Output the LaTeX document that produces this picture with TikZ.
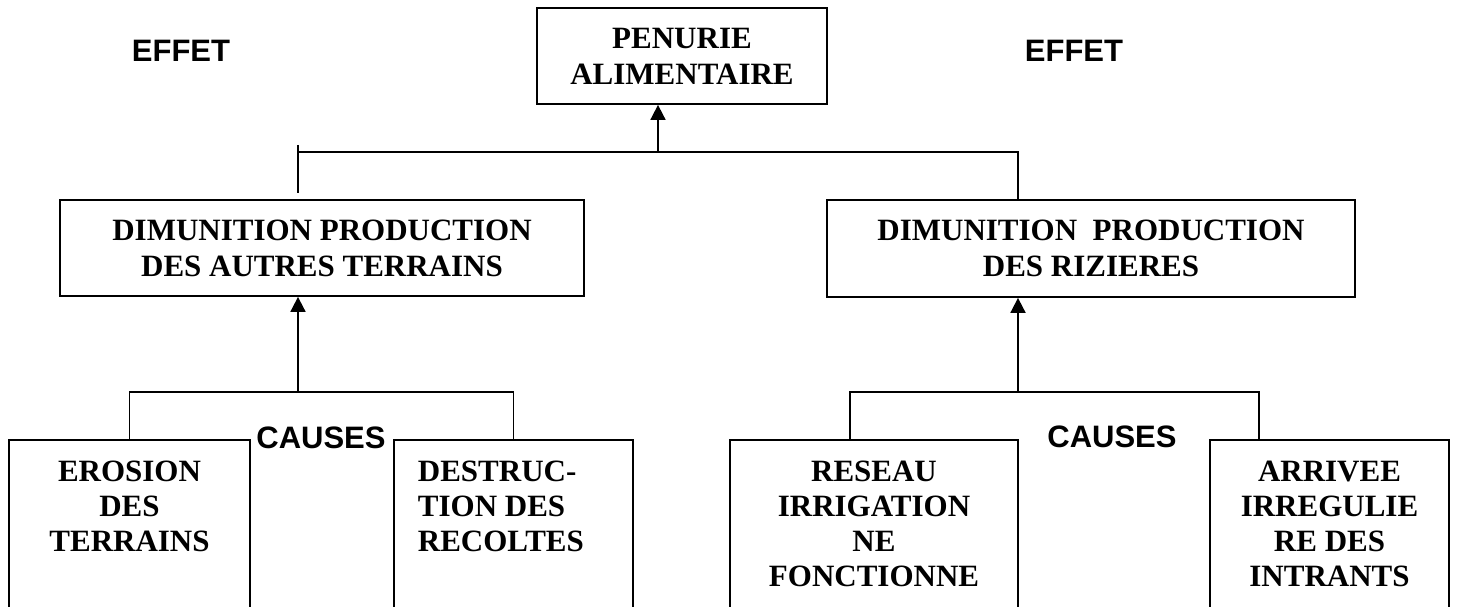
\documentclass[tikz,border=0pt]{standalone}
\usepackage{fontspec}
\setmainfont{Liberation Serif}
\newfontfamily\labelfont{Liberation Sans}
\usetikzlibrary{arrows.meta}
\begin{document}
\begin{tikzpicture}[x=1pt, y=-1pt, line width=1.8pt,
  box/.style={draw, rectangle, inner sep=0pt, align=center,
    font=\bfseries\fontsize{31}{36}\selectfont},
  causebox/.style={draw, rectangle, inner sep=0pt, minimum height=200},
  causetext/.style={inner sep=0pt, anchor=north, align=center,
    font=\bfseries\fontsize{31}{35}\selectfont},
  tag/.style={inner sep=0pt, font=\labelfont\bfseries\fontsize{31}{36}\selectfont},
  arr/.style={-{Triangle[length=15pt, width=15pt]}}]
\useasboundingbox (0,0) rectangle (1459,607);
\clip (0,0) rectangle (1459,607);

% effect
\node[box, minimum width=290, minimum height=96] (penurie) at (682,56) {PENURIE\\ALIMENTAIRE};
\node[tag] (effetL) at (181,50.5) {EFFET};
\node[tag] (effetR) at (1074,50.5) {EFFET};

% intermediate effects
\node[box, minimum width=524, minimum height=96] (autres) at (322,248) {DIMUNITION PRODUCTION\\DES AUTRES TERRAINS};
\node[box, minimum width=528, minimum height=97] (rizieres) at (1091,248.5) {DIMUNITION\ \ PRODUCTION\\DES RIZIERES};

% causes, left branch
\node[causebox, minimum width=241] (erosion) at (129.5,540) {};
\node[causetext] (erosionT) at (129.5,460) {EROSION\\DES\\TERRAINS};
\node[causebox, minimum width=239] (destruction) at (513.5,540) {};
\node[causetext, anchor=north west, align=left] (destructionT) at (417,460) {DESTRUC-\\TION DES\\RECOLTES};
\node[tag] (causesL) at (321,437.5) {CAUSES};

% causes, right branch
\node[causebox, minimum width=288] (reseau) at (874,540) {};
\node[causetext] (reseauT) at (874,460) {RESEAU\\IRRIGATION\\NE\\FONCTIONNE};
\node[causebox, minimum width=239] (arrivee) at (1329.5,540) {};
\node[causetext] (arriveeT) at (1329.5,460) {ARRIVEE\\IRREGULIE\\RE DES\\INTRANTS};
\node[tag] (causesR) at (1112,437) {CAUSES};

% upper junction
\coordinate (topj) at (658,152);
\coordinate (ltop) at (298,152);
\coordinate (rtop) at (1018,152);
\coordinate (lstub) at (298,145);
\coordinate (lfoot) at (298,193);
\draw[arr] (topj) -- (topj |- penurie.south);
\draw (ltop) -- (rtop) -- (rtop |- rizieres.north);
\draw (lstub) -- (lfoot);

% lower left junction
\coordinate (lj) at (298,392);
\draw[arr] (lj) -- (lj |- autres.south);
\draw (erosion.north) -- (erosion.north |- lj) -- (destruction.north |- lj) -- (destruction.north);

% lower right junction
\coordinate (rj) at (1018,392);
\coordinate (rl) at (850,392);
\coordinate (rr) at (1259,392);
\draw[arr] (rj) -- (rj |- rizieres.south);
\draw (rl |- reseau.north) -- (rl) -- (rr) -- (rr |- arrivee.north);
\end{tikzpicture}
\end{document}
